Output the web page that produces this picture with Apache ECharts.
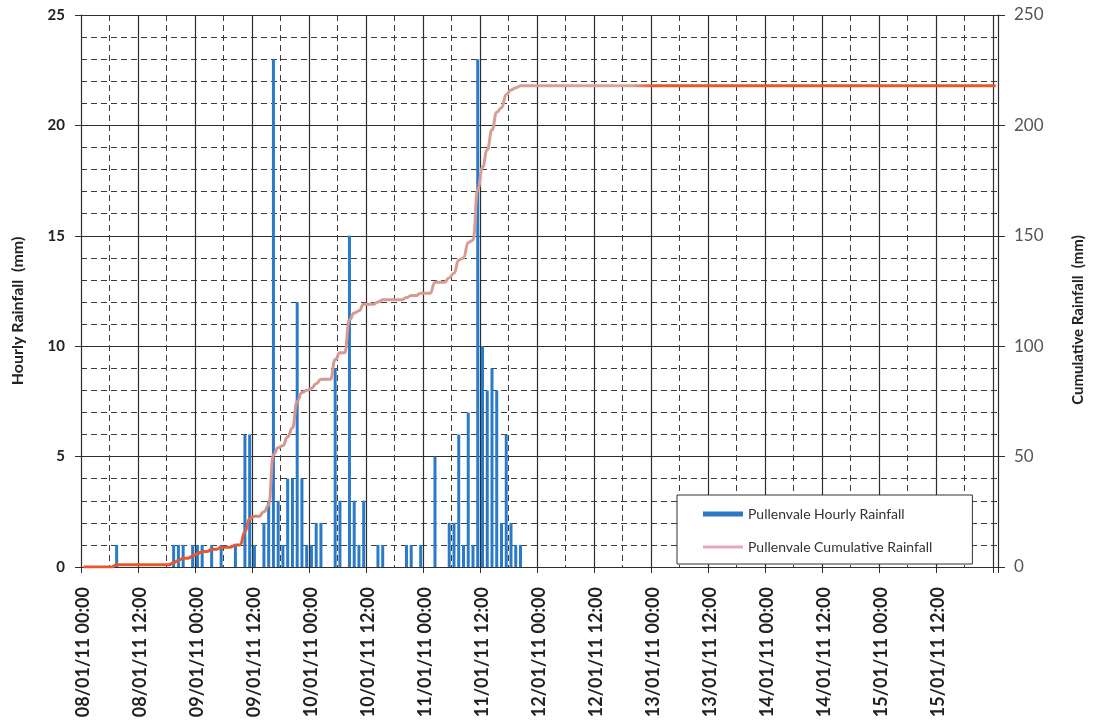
<!DOCTYPE html>
<html>
<head>
<meta charset="utf-8">
<script src="https://cdn.jsdelivr.net/npm/echarts@6/dist/echarts.min.js"></script>
<style>
  html, body { margin: 0; padding: 0; background: #ffffff; }
  #chart { width: 1093px; height: 724px; }
</style>
</head>
<body>
<div id="chart"></div>
<script>
// Pullenvale rain gauge, hourly totals from 08/01/11 00:00 to 16/01/11 00:00

// Days covered by the hourly category axis
const days = ['08', '09', '10', '11', '12', '13', '14', '15', '16'];

// Tick labels shown every 12 hours
const tickLabels = [
  '08/01/11 00:00', '08/01/11 12:00', '09/01/11 00:00', '09/01/11 12:00',
  '10/01/11 00:00', '10/01/11 12:00', '11/01/11 00:00', '11/01/11 12:00',
  '12/01/11 00:00', '12/01/11 12:00', '13/01/11 00:00', '13/01/11 12:00',
  '14/01/11 00:00', '14/01/11 12:00', '15/01/11 00:00', '15/01/11 12:00'
];

// Hours (counted from 08/01/11 00:00) that recorded rain, and the rain in each (mm)
const rainHours = [
  7, 19, 20, 21, 23, 24, 25, 27, 29, 32,
  34, 35, 36, 38, 39, 40, 41, 42, 43, 44,
  45, 46, 47, 48, 49, 50, 53, 54, 56, 57,
  58, 59, 62, 63, 68, 69, 71, 74, 77, 78,
  79, 80, 81, 82, 83, 84, 85, 86, 87, 88,
  89, 90, 91, 92
];
const rainMm = [
  1, 1, 1, 1, 1, 1, 1, 1, 1, 1,
  6, 6, 1, 2, 3, 23, 3, 1, 4, 4,
  12, 4, 1, 1, 2, 2, 9, 3, 15, 3,
  1, 3, 1, 1, 1, 1, 1, 5, 2, 2,
  6, 1, 7, 1, 23, 10, 8, 9, 8, 2,
  6, 2, 1, 1
];

// Cumulative rainfall (mm) at each hour, one row per day
const cumulativeMm = [
  0, 0, 0, 0, 0, 0, 0, 1, 1, 1, 1, 1, 1, 1, 1, 1, 1, 1, 1, 2, 3, 4, 4, 5,
  6, 7, 7, 8, 8, 9, 9, 9, 10, 10, 16, 22, 23, 23, 25, 28, 51, 54, 55, 59, 63, 75, 79, 80,
  81, 83, 85, 85, 85, 94, 97, 97, 112, 115, 116, 119, 119, 119, 120, 121, 121, 121, 121, 121, 122, 123, 123, 124,
  124, 124, 129, 129, 129, 131, 133, 139, 140, 147, 148, 171, 181, 189, 198, 206, 208, 214, 216, 217, 218, 218, 218, 218,
  218, 218, 218, 218, 218, 218, 218, 218, 218, 218, 218, 218, 218, 218, 218, 218, 218, 218, 218, 218, 218, 218, 218, 218,
  218, 218, 218, 218, 218, 218, 218, 218, 218, 218, 218, 218, 218, 218, 218, 218, 218, 218, 218, 218, 218, 218, 218, 218,
  218, 218, 218, 218, 218, 218, 218, 218, 218, 218, 218, 218, 218, 218, 218, 218, 218, 218, 218, 218, 218, 218, 218, 218,
  218, 218, 218, 218, 218, 218, 218, 218, 218, 218, 218, 218, 218, 218, 218, 218, 218, 218, 218, 218, 218, 218, 218, 218,
  218
];

// Hourly categories: dd/01/11 hh:00
const categories = [];
for (let d = 0; d < days.length; d++) {
  const lastHour = d === days.length - 1 ? 0 : 23;
  for (let h = 0; h <= lastHour; h++) {
    categories.push(days[d] + '/01/11 ' + String(h).padStart(2, '0') + ':00');
  }
}

// Full hourly series with empty hours left at zero
const hourlyMm = categories.map(() => 0);
rainHours.forEach((h, i) => { hourlyMm[h] = rainMm[i]; });

const FONT = 'Lato';
const GRID_DARK = '#2e2e2e';
const GRID_DASH = '#3c3c3c';

const chart = echarts.init(document.getElementById('chart'), null, { renderer: 'canvas' });

chart.setOption({
  animation: false,
  backgroundColor: '#ffffff',
  grid: { left: 81, right: 95, top: 15, bottom: 157, containLabel: false },
  legend: {
    orient: 'vertical',
    left: 677,
    top: 495,
    padding: [12, 40, 10, 26],
    itemGap: 19,
    itemWidth: 40,
    itemHeight: 5,
    backgroundColor: '#ffffff',
    borderColor: '#333333',
    borderWidth: 1,
    textStyle: { fontFamily: FONT, fontSize: 14, color: '#333333' },
    data: [
      { name: 'Pullenvale Hourly Rainfall', icon: 'rect' },
      {
        name: 'Pullenvale Cumulative Rainfall',
        icon: 'path://M0,0H40V3H0Z',
        itemStyle: { color: '#eaa5b7' },
        lineStyle: { color: '#eaa5b7' }
      }
    ]
  },
  xAxis: [
    {
      type: 'category',
      data: categories,
      boundaryGap: true,
      axisLine: { show: true, lineStyle: { color: GRID_DARK, width: 1 } },
      axisTick: { show: true, interval: 11, length: 6, lineStyle: { color: GRID_DARK } },
      axisLabel: {
        interval: (i) => i % 12 === 0 && tickLabels.indexOf(categories[i]) >= 0,
        rotate: 90,
        margin: 20,
        fontFamily: FONT,
        fontSize: 18,
        fontWeight: 'bold',
        color: '#222222'
      },
      splitLine: { show: true, interval: 11, lineStyle: { color: GRID_DARK, width: 1.2 } }
    },
    {
      // Dashed mid-lines every 12 hours, offset by 6 hours
      type: 'category',
      data: categories,
      boundaryGap: true,
      position: 'bottom',
      axisLine: { show: false },
      axisTick: { show: false },
      axisLabel: { show: false },
      splitLine: {
        show: true,
        interval: (i) => i % 12 === 6,
        lineStyle: { color: GRID_DASH, width: 1, type: [6, 4] }
      }
    }
  ],
  yAxis: [
    {
      type: 'value',
      position: 'left',
      min: 0,
      max: 25,
      interval: 5,
      axisLine: { show: true, lineStyle: { color: GRID_DARK, width: 1 } },
      axisTick: { show: true, length: 6, lineStyle: { color: GRID_DARK } },
      axisLabel: { fontFamily: FONT, fontSize: 15, fontWeight: 'bold', color: '#222222', margin: 16 },
      splitLine: { show: true, lineStyle: { color: GRID_DARK, width: 1.2 } },
      minorTick: { show: false, splitNumber: 5 },
      minorSplitLine: { show: true, lineStyle: { color: GRID_DASH, width: 1, type: [6, 4] } }
    },
    {
      type: 'value',
      position: 'right',
      min: 0,
      max: 250,
      interval: 50,
      axisLine: { show: true, lineStyle: { color: GRID_DARK, width: 1 } },
      axisTick: { show: true, length: 7, lineStyle: { color: GRID_DARK } },
      axisLabel: { fontFamily: FONT, fontSize: 17, color: '#555555', margin: 16 },
      splitLine: { show: false }
    }
  ],
  graphic: [
    {
      type: 'text',
      x: 18,
      y: 311,
      rotation: Math.PI / 2,
      style: {
        text: 'Hourly Rainfall  (mm)',
        font: 'bold 16px Lato',
        fill: '#222222',
        align: 'center',
        verticalAlign: 'middle'
      }
    },
    {
      type: 'text',
      x: 1078,
      y: 320,
      rotation: Math.PI / 2,
      style: {
        text: 'Cumulative Rainfall  (mm)',
        font: 'bold 15px Lato',
        fill: '#222222',
        align: 'center',
        verticalAlign: 'middle'
      }
    }
  ],
  series: [
    {
      name: 'Pullenvale Hourly Rainfall',
      type: 'bar',
      xAxisIndex: 0,
      yAxisIndex: 0,
      data: hourlyMm,
      barWidth: 3,
      itemStyle: { color: '#2a7ac8' },
      z: 2
    },
    {
      name: 'Pullenvale Cumulative Rainfall',
      type: 'line',
      xAxisIndex: 0,
      yAxisIndex: 1,
      data: cumulativeMm,
      symbol: 'none',
      smooth: 0.5,
      smoothMonotone: 'x',
      lineStyle: {
        width: 3,
        color: {
          type: 'linear', x: 0, y: 0, x2: 1, y2: 0,
          colorStops: [
            { offset: 0, color: '#e4582f' },
            { offset: 0.175, color: '#e4582f' },
            { offset: 0.2, color: '#d5958e' },
            { offset: 0.6, color: '#d9a39b' },
            { offset: 0.625, color: '#e4582f' },
            { offset: 1, color: '#e4582f' }
          ]
        }
      },
      z: 3
    }
  ]
});
</script>
</body>
</html>
